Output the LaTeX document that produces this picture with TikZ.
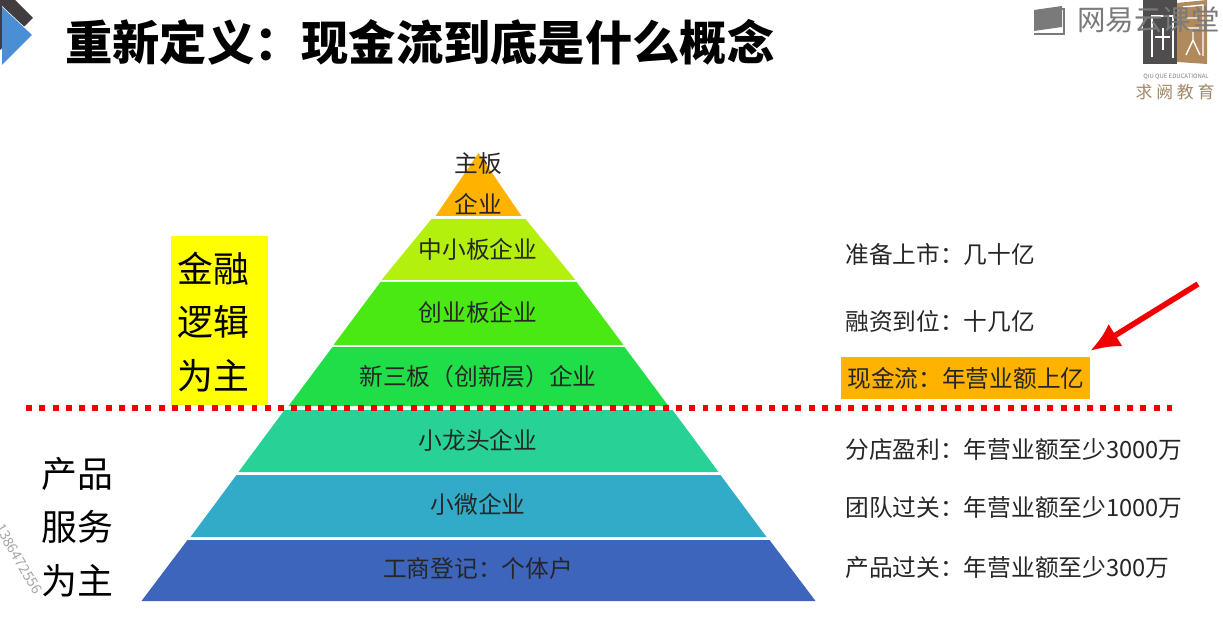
\documentclass[tikz,border=0pt]{standalone}
\usepackage{fontspec}
\setmainfont{Noto Sans CJK SC}
\usetikzlibrary{arrows.meta}
\definecolor{barorange}{HTML}{FFB300}
\definecolor{barlime}{HTML}{B4F00E}
\definecolor{bargreen}{HTML}{4BE913}
\definecolor{bardeep}{HTML}{20DE48}
\definecolor{barteal}{HTML}{28D296}
\definecolor{barcyan}{HTML}{32ABC8}
\definecolor{barblue}{HTML}{3D65BC}
\definecolor{wmgray}{HTML}{7A7A7A}
\definecolor{logobrown}{HTML}{B08A5C}
\definecolor{logodark}{HTML}{4F4D4D}
\definecolor{markdark}{HTML}{403C40}
\definecolor{markblue}{HTML}{4A8FD6}
\definecolor{puremark}{HTML}{FFFF00}
\definecolor{purered}{HTML}{F00000}
\newcommand{\fc}{\symbol{"FF1A}}
\begin{document}
\begin{tikzpicture}[x=.02cm, y=-.02cm,
  lbl/.style={inner sep = 0 pt, text = black!85, font=\fontsize{13.5}{16}\selectfont},
  side/.style={lbl, anchor = west},
  big/.style={inner sep = 0 pt, text = black, align = center, font=\fontsize{20.4}{30.3}\selectfont}]
\useasboundingbox (0,0) rectangle (1223,638);
%corner mark
\fill[markdark] (0,0) -- (15,0) -- (33,18) -- (0,50) -- cycle;
\fill[white] (2,6) -- (33,35) -- (2,66) -- cycle;
\fill[markblue] (2,7) -- (32,35) -- (2,65) -- cycle;
\path (65,42) node[inner sep = 0 pt, anchor = west, font=\fontsize{26.9}{32}\selectfont\bfseries] (title) {重新定义\fc 现金流到底是什么概念};

%school logo
\fill[logodark] (1143,0) rectangle (1177,64);
\fill[logobrown] (1177,3) -- (1207,0) -- (1207,64) -- (1177,62) -- cycle;
\draw[white, thick] (1152,57) -- (1152,16) -- (1173,16) -- (1173,58) (1155,37) -- (1170,37) (1163,28) -- (1163,50);
\draw[white, thick] (1183,7) -- (1203,5) -- (1203,56) (1186,18) -- (1199,18) (1186,28) -- (1199,28) (1193,32) -- (1193,40) (1186,55) -- (1193,40) -- (1200,55);
\path (1176,77) node[font=\fontsize{3.4}{4}\selectfont, text = gray] (school) {QIU QUE EDUCATIONAL};
\path (1175,92) node[inner sep = 0 pt, font=\fontsize{9.6}{11}\selectfont, text = logobrown!70!gray] (schoolcn) {求 阙 教 育};
%video site mark
\fill[wmgray] (1034,10) -- (1062,6) -- (1062,27) -- (1034,31) -- cycle;
\draw[wmgray, thick] (1062,9) -- (1064,9) -- (1064,34) -- (1034,34);
\path (1077,20) node[inner sep = 0 pt, anchor = west, text = wmgray, font=\fontsize{16.2}{20}\selectfont] (site) {网易云课堂};

%pyramid, each entry is top/bottom/half top/half bottom/colour
\foreach \t/\b/\ht/\hb/\c in {153/216/0/43/barorange, 219/280/47/97/barlime, 282/345/98/145/bargreen, 347/406/146/190/bardeep, 410/472/194/240/barteal, 475/537/242/288/barcyan, 540/601/291/337/barblue}{
  \fill[\c] (478.5-\ht,\t) -- (478.5+\ht,\t) -- (478.5+\hb,\b) -- (478.5-\hb,\b) -- cycle;}
\node[lbl] (main) at (478,164) {主板};
\node[lbl] (mainco) at (478,204) {企业};
\node[lbl] (sme) at (478,249) {中小板企业};
\node[lbl] (gem) at (478,312) {创业板企业};
\node[lbl] (neeq) at (478,376) {新三板\symbol{"FF08}创新层\symbol{"FF09}企业};
\node[lbl] (leader) at (478,440) {小龙头企业};
\node[lbl] (micro) at (478,504) {小微企业};
\node[lbl] (shop) at (478,568) {工商登记\fc 个体户};

%left side
\fill[puremark] (171,236) rectangle (268,405);
\node[big] (finance) at (213,322) {金融\\逻辑\\为主};
\node[big] (product) at (77,527) {产品\\服务\\为主};
\node[rotate=-60, inner sep = 0 pt, text = gray!70, font=\fontsize{8}{10}\selectfont] (stamp) at (19,559) {1386472556};

%right side
\fill[barorange] (841,357) rectangle (1090,399);
\node[side] (list) at (845,254) {准备上市\fc 几十亿};
\node[side] (funds) at (845,321) {融资到位\fc 十几亿};
\node[side] (cash) at (847,378) {现金流\fc 年营业额上亿};
\node[side] (shops) at (845,449) {分店盈利\fc 年营业额至少3000万};
\node[side] (team) at (845,507) {团队过关\fc 年营业额至少1000万};
\node[side] (goods) at (845,568) {产品过关\fc 年营业额至少300万};

\draw[purered, line width = 3.4pt, dash pattern = on 3.4pt off 4.15pt] (26,408) -- (1172,408);
\coordinate (tail) at (1198,284);
\coordinate (tip) at (1090,351);
\draw[-{Latex[length=17pt, width=15pt]}, purered, line width = 3.2pt] (tail) -- (tip);
\end{tikzpicture}
\end{document}
